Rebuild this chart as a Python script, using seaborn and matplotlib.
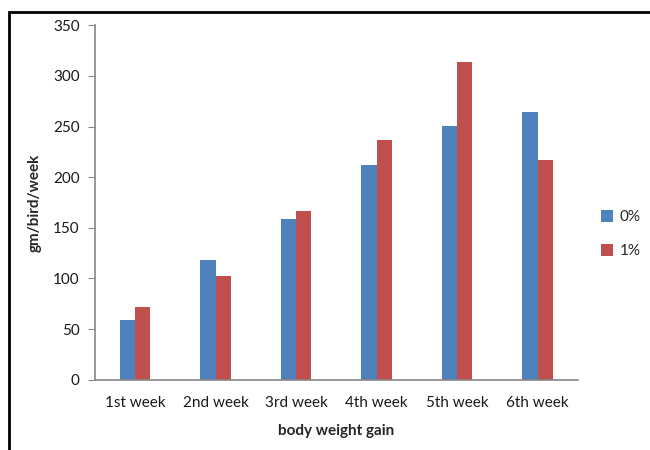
import pandas as pd
import seaborn as sns
import matplotlib.pyplot as plt
from matplotlib.patches import Rectangle

# values
weeks = ["1st week", "2nd week", "3rd week", "4th week", "5th week", "6th week"]
level_0 = [59, 118, 159, 212, 251, 264]
level_1 = [72, 102, 167, 237, 314, 217]
series = ["0%", "1%"]

df = pd.DataFrame({
    "week": weeks * 2,
    "gain": level_0 + level_1,
    "level": [series[0]] * len(weeks) + [series[1]] * len(weeks),
})

sns.set_style("white")
plt.rcParams["font.family"] = ["Lato", "DejaVu Sans"]

fig = plt.figure(figsize=(6.5, 4.5), dpi=100)
ax = fig.add_axes([0.146, 0.156, 0.743, 0.788])

sns.barplot(data=df, x="week", y="gain", hue="level", order=weeks,
            palette=["#4F81BD", "#C0504D"], width=0.38, gap=0,
            saturation=1, ax=ax, edgecolor="none")

ax.set_ylim(0, 350)
ax.set_yticks(range(0, 351, 50))
ax.set_xlim(-0.5, 5.5)

axis_col = "#868686"
for s in ["top", "right"]:
    ax.spines[s].set_visible(False)
for s in ["left", "bottom"]:
    ax.spines[s].set_color(axis_col)
    ax.spines[s].set_linewidth(1.2)

ax.tick_params(axis="y", direction="out", length=5, color=axis_col,
               labelsize=11, labelcolor="#1a1a1a", pad=6, left=True)
ax.tick_params(axis="x", length=0, labelsize=11, labelcolor="#1a1a1a", pad=12)

ax.set_xlabel("body weight gain", fontsize=11, fontweight="bold", labelpad=10)
ax.set_ylabel("gm/bird/week", fontsize=11, fontweight="bold", labelpad=8)

leg = ax.legend(loc="center left", bbox_to_anchor=(1.02, 0.41), frameon=False,
                fontsize=11, handlelength=0.8, handleheight=0.8,
                handletextpad=0.4, labelspacing=1.3)

# outer chart border like the source
fig.patches.append(Rectangle((0.014, -0.1), 2, 1.073, transform=fig.transFigure,
                             fill=False, edgecolor="black", linewidth=2))

fig.savefig("out.png", dpi=100)
